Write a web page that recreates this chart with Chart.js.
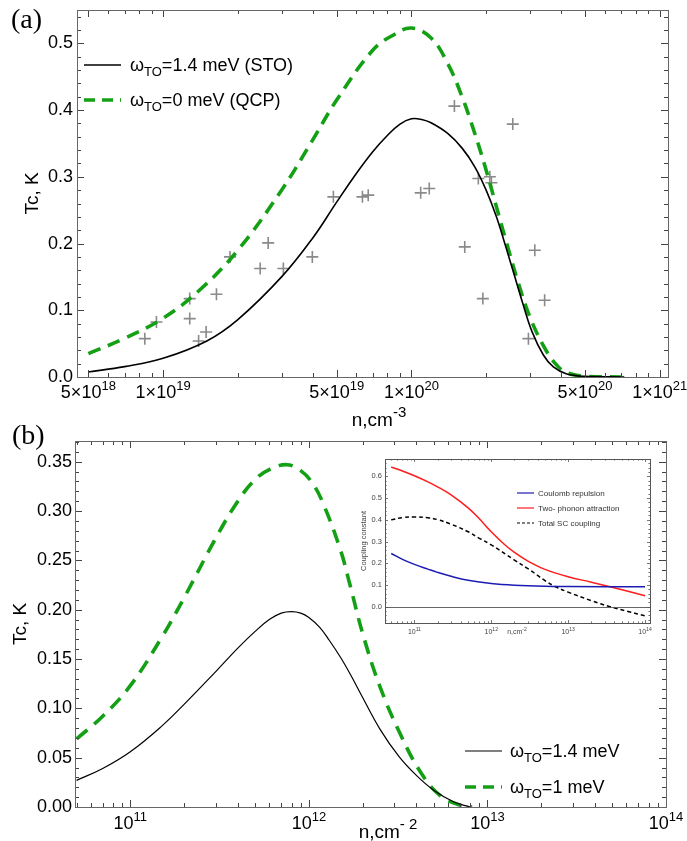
<!DOCTYPE html>
<html><head><meta charset="utf-8">
<script src="https://cdn.jsdelivr.net/npm/chart.js@4.4.1/dist/chart.umd.min.js"></script>
<style>
html,body{margin:0;padding:0;background:#fff;}
#wrap{position:relative;width:687px;height:841px;overflow:hidden;background:#fff;}
canvas{position:absolute;}
</style></head><body>
<div id="wrap">
<canvas id="ca" style="left:0;top:0" width="687" height="440"></canvas>
<canvas id="cb" style="left:0;top:400px" width="687" height="441"></canvas>
<canvas id="ci" style="left:340px;top:450px" width="320" height="195"></canvas>
</div>
<script>
// ---------- Panel (a) data ----------
const aStoN  = [5e18,7e18,1e19,1.5e19,2e19,3e19,4e19,5e19,6e19,7e19,8e19,9e19,1e20,1.1e20,1.2e20,1.4e20,1.6e20,1.8e20,2e20,2.2e20,2.4e20,2.6e20,2.8e20,3.06e20,3.4e20,3.73e20,4.2e20,5e20,7.2e20];
const aStoTc = [0.0075,0.0155,0.028,0.054,0.086,0.15,0.208,0.262,0.305,0.338,0.362,0.379,0.387,0.386,0.381,0.365,0.343,0.315,0.28,0.24,0.195,0.152,0.112,0.068,0.033,0.015,0.005,0.001,0];
const aQcpN  = [5e18,7e18,1e19,1.4e19,2e19,3e19,4e19,5e19,7e19,8.5e19,1e20,1.2e20,1.4e20,1.6e20,1.8e20,2e20,2.2e20,2.4e20,2.7e20,3e20,3.4e20,3.8e20,4.2e20,5e20,7e20];
const aQcpTc = [0.035,0.058,0.088,0.13,0.19,0.28,0.355,0.415,0.49,0.513,0.523,0.508,0.47,0.42,0.365,0.31,0.255,0.205,0.14,0.09,0.047,0.02,0.007,0.001,0];
const aExpN  = [8.44e18,9.4e18,1.28e19,1.28e19,1.39e19,1.49e19,1.64e19,1.86e19,2.46e19,2.65e19,3.05e19,3.99e19,4.85e19,6.35e19,6.7e19,1.09e20,1.18e20,1.49e20,1.64e20,1.86e20,1.94e20,2.07e20,2.1e20,2.56e20,2.96e20,3.14e20,3.44e20];
const aExpTc = [0.0575,0.0825,0.1175,0.0875,0.054,0.0675,0.124,0.18,0.1625,0.201,0.1625,0.18,0.27,0.27,0.2725,0.276,0.2825,0.406,0.195,0.2975,0.1175,0.30,0.291,0.379,0.0575,0.19,0.115];
const aXTicks = [5e18,1e19,5e19,1e20,5e20,1e21];
const aXTickLabels = [['5×10','18'],['1×10','19'],['5×10','19'],['1×10','20'],['5×10','20'],['1×10','21']];
const aLegend = [['ω','TO','=1.4 meV (STO)'],['ω','TO','=0 meV (QCP)']];

// ---------- Panel (b) data ----------
const bStoN  = [5e10,7e10,1e11,1.5e11,2e11,3e11,4e11,5e11,6e11,7e11,8e11,9e11,1e12,1.15e12,1.3e12,1.5e12,1.7e12,2e12,2.5e12,3.2e12,4e12,5e12,6.5e12,8e12];
const bStoTc = [0.027,0.039,0.056,0.082,0.104,0.137,0.161,0.178,0.19,0.1965,0.198,0.1965,0.192,0.182,0.169,0.152,0.135,0.111,0.079,0.051,0.032,0.017,0.005,0];
const bW1N   = [5e10,7e10,1e11,1.5e11,2e11,3e11,4e11,5e11,6e11,7.5e11,9e11,1.05e12,1.2e12,1.5e12,1.7e12,2e12,2.5e12,3.25e12,4.2e12,5.4e12,7e12,8.2e12];
const bW1Tc  = [0.069,0.092,0.123,0.172,0.212,0.272,0.31,0.332,0.342,0.347,0.341,0.328,0.308,0.261,0.225,0.176,0.122,0.074,0.036,0.012,0.002,0];
const bXTicks = [1e11,1e12,1e13,1e14];
const bXTickLabels = [['10','11'],['10','12'],['10','13'],['10','14']];
const bLegend = [['ω','TO','=1.4 meV'],['ω','TO','=1 meV']];

// ---------- Inset data ----------
const iRedN  = [5e10,7e10,1e11,1.5e11,2e11,3e11,5e11,7e11,1e12,1.5e12,2e12,3e12,5e12,1e13,2e13,3.5e13,6e13,1e14];
const iRed   = [0.643,0.625,0.603,0.575,0.552,0.515,0.455,0.405,0.345,0.285,0.25,0.21,0.172,0.138,0.113,0.092,0.071,0.05];
const iBlueN = [5e10,7e10,1e11,1.5e11,2e11,3e11,5e11,1e12,2e12,5e12,1e13,1e14];
const iBlue  = [0.245,0.218,0.195,0.173,0.158,0.14,0.122,0.107,0.099,0.094,0.093,0.092];
const iTotN  = [5e10,7e10,1e11,1.5e11,2e11,3e11,5e11,7e11,1e12,2e12,3e12,5e12,6.6e12,1e13,2e13,3.5e13,6e13,1e14];
const iTot   = [0.40,0.41,0.413,0.41,0.401,0.38,0.345,0.315,0.285,0.215,0.175,0.12,0.095,0.067,0.028,0.0,-0.022,-0.042];
const iLegend = ['Coulomb repulsion','Two- phonon attraction','Total SC coupling'];

const SANS = '"Liberation Sans", Arial, sans-serif';
const SERIF = '"Liberation Serif", "Times New Roman", serif';
const GREEN = '#14a014';

const pts = (xs, ys) => xs.map((x,i)=>({x:x, y:ys[i]}));

function supText(ctx, base, sup, x, y, font, supFont, rise, align){
  ctx.font = font; const wb = ctx.measureText(base).width;
  ctx.font = supFont; const ws = ctx.measureText(sup).width;
  const x0 = align === 'left' ? x : x - (wb+ws)/2;
  ctx.textAlign = 'left'; ctx.textBaseline = 'alphabetic';
  ctx.font = font; ctx.fillText(base, x0, y);
  ctx.font = supFont; ctx.fillText(sup, x0+wb, y-rise);
}

const decor = {
  id: 'decor',
  beforeDraw(chart, args, o){
    if (o.fillArea){
      const a = chart.chartArea, ctx = chart.ctx;
      ctx.save(); ctx.fillStyle = '#fff';
      ctx.fillRect(a.left, a.top, a.right-a.left, a.bottom-a.top); ctx.restore();
    }
  },
  afterDraw(chart, args, o){
    const ctx = chart.ctx, xs = chart.scales.x, ys = chart.scales.y, a = chart.chartArea;
    ctx.save();
    const line = (x1,y1,x2,y2)=>{ctx.beginPath();ctx.moveTo(x1,y1);ctx.lineTo(x2,y2);ctx.stroke();};
    if (o.zeroLine){
      ctx.strokeStyle = o.zeroColor; ctx.lineWidth = 0.9;
      const py = Math.round(ys.getPixelForValue(0))+0.5;
      line(a.left, py, a.right, py);
    }
    ctx.strokeStyle = o.tickColor; ctx.lineWidth = o.tickW;
    const lo = Math.floor(Math.log10(xs.min)), hi = Math.ceil(Math.log10(xs.max));
    for (let d=lo; d<=hi; d++){
      for (let m=1; m<=9; m++){
        const v = m*Math.pow(10,d);
        if (v < xs.min || v > xs.max) continue;
        const major = o.xMajor.some(t=>Math.abs(t/v-1)<1e-6);
        const px = Math.round(xs.getPixelForValue(v))+0.5;
        const L = major ? o.majorLen : o.minorLen;
        line(px, a.bottom, px, a.bottom-L);
        line(px, a.top, px, a.top+L);
      }
    }
    const k0 = Math.ceil(ys.min/o.yMinor - 1e-6), k1 = Math.floor(ys.max/o.yMinor + 1e-6);
    for (let k=k0; k<=k1; k++){
      const v = k*o.yMinor;
      const r = v/o.yMajor;
      const major = Math.abs(r-Math.round(r)) < 1e-6;
      const py = Math.round(ys.getPixelForValue(v))+0.5;
      const L = major ? o.majorLen : o.minorLen;
      line(a.left, py, a.left+L, py);
      line(a.right, py, a.right-L, py);
    }
    ctx.strokeStyle = o.frame; ctx.lineWidth = o.frameW;
    ctx.strokeRect(Math.round(a.left)+0.5, Math.round(a.top)+0.5, Math.round(a.right-a.left), Math.round(a.bottom-a.top));
    ctx.fillStyle = o.textColor;
    o.xMajor.forEach((v,i)=>{
      const lab = o.xLabels[i];
      supText(ctx, lab[0], lab[1], xs.getPixelForValue(v), o.xLabelBase, o.labelFont, o.supFont, o.supRise);
    });
    const t = o.xTitle;
    supText(ctx, t.base, t.sup, t.x, t.y, t.font, t.supFont, t.rise);
    (o.texts||[]).forEach(tx=>{
      ctx.font = tx.font; ctx.fillStyle = tx.color; ctx.textAlign='left'; ctx.textBaseline='alphabetic';
      ctx.fillText(tx.text, tx.x, tx.y);
    });
    (o.legend||[]).forEach(it=>{
      ctx.strokeStyle = it.color; ctx.lineWidth = it.width; ctx.setLineDash(it.dash||[]);
      line(it.x1, it.y, it.x2, it.y);
      ctx.setLineDash([]);
      ctx.fillStyle = it.textColor; ctx.textAlign='left'; ctx.textBaseline='alphabetic';
      let x = it.tx; const by = it.y + it.shift;
      if (Array.isArray(it.parts)){
        ctx.font = it.font; ctx.fillText(it.parts[0], x, by); x += ctx.measureText(it.parts[0]).width;
        ctx.font = it.subFont; ctx.fillText(it.parts[1], x, by+it.subDrop); x += ctx.measureText(it.parts[1]).width;
        ctx.font = it.font; ctx.fillText(it.parts[2], x, by);
      } else {
        ctx.font = it.font; ctx.fillText(it.parts, x, by);
      }
    });
    ctx.restore();
  }
};

function yAxis(min, max, step, digits, size, title, titleSize, width, tickPad, color){
  return {
    type:'linear', min:min, max:max, position:'left',
    grid:{display:false, drawTicks:false}, border:{display:false},
    ticks:{stepSize:step, includeBounds:false, padding:tickPad, color:color,
      font:{family:SANS, size:size}, callback:(v)=>Number(v).toFixed(digits)},
    title:{display:true, text:title, color:color, padding:0, font:{family:SANS, size:titleSize}},
    afterFit:(s)=>{ s.width = width; s.paddingTop = 0; s.paddingBottom = 0; }
  };
}
function xAxis(min, max){
  return {type:'logarithmic', min:min, max:max, display:false};
}
const lineDs = (label, data, color, width, dash) => ({
  label, data, borderColor:color, backgroundColor:color, borderWidth:width, borderDash:dash||[],
  pointRadius:0, fill:false, tension:0.4, borderCapStyle:'butt'
});

new Chart(document.getElementById('ca'), {
  type:'line',
  data:{datasets:[
    lineDs('STO', pts(aStoN,aStoTc), '#000', 1.6),
    lineDs('QCP', pts(aQcpN,aQcpTc), GREEN, 3.6, [13,8]),
    {label:'exp', data:pts(aExpN,aExpTc), showLine:false, pointStyle:'cross', pointRadius:6,
     pointBorderWidth:1.6, borderColor:'#8a8a8a', backgroundColor:'#8a8a8a'}
  ]},
  options:{
    responsive:false, animation:false, devicePixelRatio:1,
    layout:{padding:{left:21, top:10, right:19, bottom:63}},
    scales:{ x:xAxis(4.5e18, 1.08e21), y:yAxis(0, 0.55, 0.1, 1, 18, 'Tc, K', 19, 56, 4, '#000') },
    plugins:{ legend:{display:false}, tooltip:{enabled:false},
      decor:{ frame:'#666', frameW:1, tickColor:'#444', tickW:1, majorLen:7, minorLen:4,
        yMinor:0.02, yMajor:0.1, xMajor:aXTicks, xLabels:aXTickLabels,
        labelFont:'18px '+SANS, supFont:'13px '+SANS, supRise:8, xLabelBase:398, textColor:'#000',
        xTitle:{base:'n,cm', sup:'-3', x:379, y:426, font:'19px '+SANS, supFont:'15px '+SANS, rise:9},
        texts:[{text:'(a)', x:11, y:28, font:'28px '+SERIF, color:'#000'}],
        legend:[
          {parts:aLegend[0], x1:84, x2:121, y:65, tx:130, shift:6, color:'#000', width:1.6, dash:[], font:'18px '+SANS, subFont:'13px '+SANS, subDrop:5, textColor:'#000'},
          {parts:aLegend[1], x1:84, x2:121, y:100, tx:130, shift:6, color:GREEN, width:3.6, dash:[11,7], font:'18px '+SANS, subFont:'13px '+SANS, subDrop:5, textColor:'#000'}
        ]}
    }
  },
  plugins:[decor]
});

new Chart(document.getElementById('cb'), {
  type:'line',
  data:{datasets:[
    lineDs('1.4 meV', pts(bStoN,bStoTc), '#000', 1.2),
    lineDs('1 meV', pts(bW1N,bW1Tc), GREEN, 3.6, [14,9])
  ]},
  options:{
    responsive:false, animation:false, devicePixelRatio:1,
    layout:{padding:{left:9, top:41, right:21, bottom:34}},
    scales:{ x:xAxis(4.9e10, 1e14), y:yAxis(0, 0.371, 0.05, 2, 18, 'Tc, K', 19, 66, 3, '#000') },
    plugins:{ legend:{display:false}, tooltip:{enabled:false},
      decor:{ frame:'#666', frameW:1, tickColor:'#444', tickW:1, majorLen:7, minorLen:4,
        yMinor:0.01, yMajor:0.05, xMajor:bXTicks, xLabels:bXTickLabels,
        labelFont:'18px '+SANS, supFont:'13px '+SANS, supRise:8, xLabelBase:429, textColor:'#000',
        xTitle:{base:'n,cm', sup:'- 2', x:388, y:438, font:'19px '+SANS, supFont:'15px '+SANS, rise:9},
        texts:[{text:'(b)', x:12, y:44, font:'28px '+SERIF, color:'#000'}],
        legend:[
          {parts:bLegend[0], x1:465, x2:502, y:351, tx:510, shift:6, color:'#000', width:1.2, dash:[], font:'18px '+SANS, subFont:'13px '+SANS, subDrop:5, textColor:'#000'},
          {parts:bLegend[1], x1:465, x2:502, y:387, tx:510, shift:6, color:GREEN, width:3.6, dash:[11,7], font:'18px '+SANS, subFont:'13px '+SANS, subDrop:5, textColor:'#000'}
        ]}
    }
  },
  plugins:[decor]
});

new Chart(document.getElementById('ci'), {
  type:'line',
  data:{datasets:[
    lineDs('Coulomb repulsion', pts(iBlueN,iBlue), '#1c1cb4', 1.5),
    lineDs('Two- phonon attraction', pts(iRedN,iRed), '#ff1c1c', 1.5),
    lineDs('Total SC coupling', pts(iTotN,iTot), '#000', 1.5, [4,3])
  ]},
  options:{
    responsive:false, animation:false, devicePixelRatio:1,
    layout:{padding:{left:19.5, top:9, right:10, bottom:22}},
    scales:{ x:xAxis(4.15e10, 1.16e14), y:yAxis(-0.075, 0.68, 0.1, 1, 7.5, 'Coupling constant', 7.5, 25.5, 3, '#444') },
    plugins:{ legend:{display:false}, tooltip:{enabled:false},
      decor:{ fillArea:true, zeroLine:true, zeroColor:'#555', frame:'#555', frameW:1, tickColor:'#555', tickW:0.8, majorLen:3, minorLen:1.6,
        yMinor:0.02, yMajor:0.1, xMajor:bXTicks, xLabels:bXTickLabels,
        labelFont:'7px '+SANS, supFont:'5px '+SANS, supRise:3, xLabelBase:184, textColor:'#444',
        xTitle:{base:'n,cm', sup:'-2', x:177, y:184, font:'7px '+SANS, supFont:'5px '+SANS, rise:3},
        texts:[],
        legend:[
          {parts:iLegend[0], x1:177, x2:194, y:43, tx:198, shift:3, color:'#1c1cb4', width:1.2, dash:[], font:'8px '+SANS, textColor:'#333'},
          {parts:iLegend[1], x1:177, x2:194, y:58, tx:198, shift:3, color:'#ff1c1c', width:1.2, dash:[], font:'8px '+SANS, textColor:'#333'},
          {parts:iLegend[2], x1:177, x2:194, y:73, tx:198, shift:3, color:'#000', width:1.2, dash:[3,2], font:'8px '+SANS, textColor:'#333'}
        ]}
    }
  },
  plugins:[decor]
});
</script>
</body></html>
